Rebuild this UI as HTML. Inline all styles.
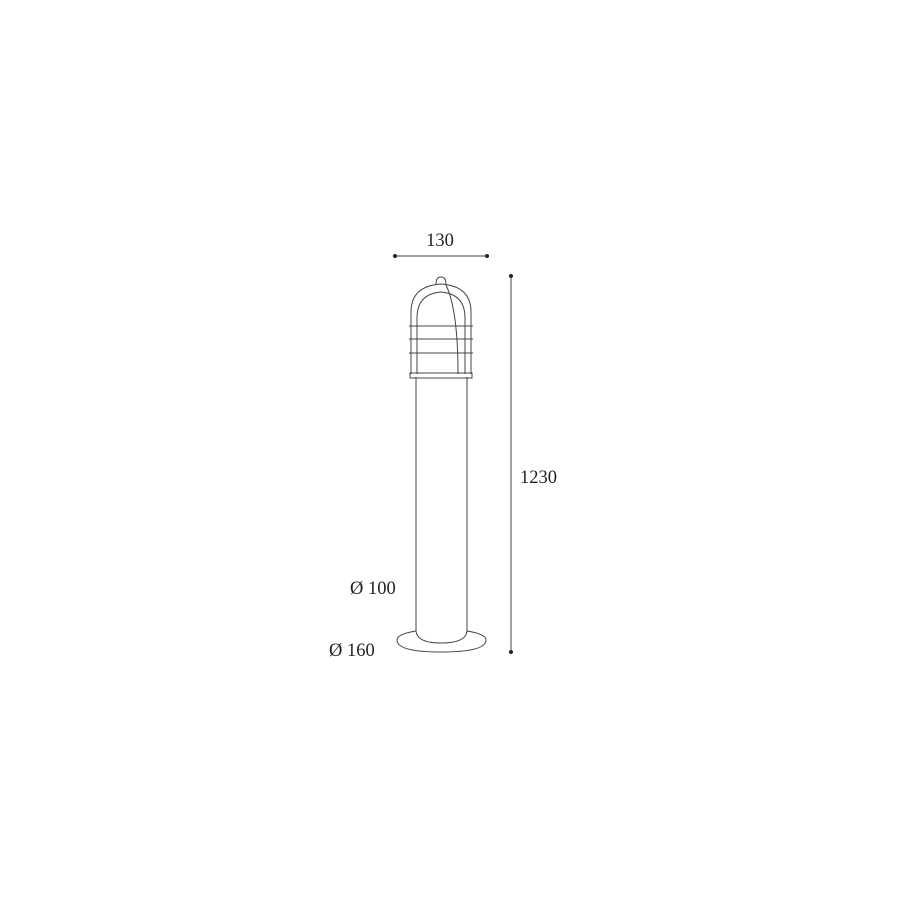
<!DOCTYPE html>
<html><head><style>body{margin:0;background:#fff}</style></head><body>
<svg width="900" height="900" xmlns="http://www.w3.org/2000/svg" font-family="Liberation Serif, serif" font-size="18.5" fill="#222">
<rect width="900" height="900" fill="#fff"/>
<g stroke="#444" stroke-width="1" fill="none">
<line x1="395" y1="256" x2="487" y2="256"/>
<line x1="511" y1="276" x2="511" y2="652"/>
<path d="M416,631 Q397,634 397,640 Q397,652 441,652 Q486,652 486,640 Q486,634 467,631"/>
<path d="M416,377 L416,630 Q416,643 441,643 Q467,643 467,630 L467,377"/>
<path d="M411,374 L411,312 Q411,286 441,284 Q471,286 471,312 L471,374"/>
<path d="M417,374 L417,318 Q417,294 441,292 Q465,294 465,318 L465,374"/>
<path d="M436,284 Q436,277 441,277 Q446,277 446,284"/>
<path d="M446,285 Q458,310 458,374"/>
<path d="M409,326 H473 M409,339 H473 M409,353 H473"/>
<rect x="410" y="373" width="62" height="5"/>
</g>
<g fill="#222"><circle cx="395" cy="256" r="2"/><circle cx="487" cy="256" r="2"/><circle cx="511" cy="276" r="2"/><circle cx="511" cy="652" r="2"/></g>
<text x="440" y="246" text-anchor="middle">130</text>
<text x="520" y="483">1230</text>
<text x="350" y="594">Ø 100</text>
<text x="329" y="656">Ø 160</text>
</svg>
</body></html>
